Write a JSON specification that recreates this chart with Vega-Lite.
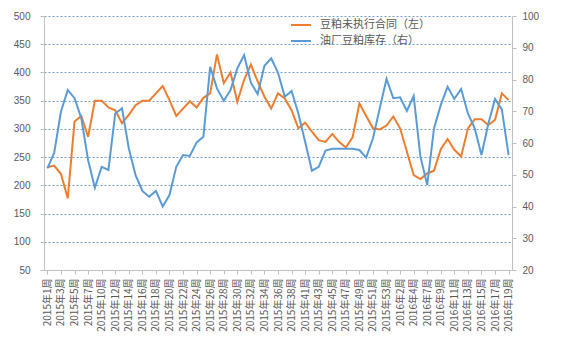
{
  "$schema": "https://vega.github.io/schema/vega-lite/v6.json",
  "autosize": {"type": "none"},
  "padding": {"left": 44, "top": 16, "right": 52, "bottom": 88},
  "width": 468,
  "height": 254,
  "background": "white",
  "config": {
    "view": {"stroke": null},
    "font": "Noto Sans CJK SC",
    "axis": {"labelColor": "#595959", "domainColor": "#bfbfbf", "tickColor": "#bfbfbf", "tickSize": 4, "labelFontSize": 10, "titleColor": "#595959"}
  },
  "data": {"values": [
    {"w": "2015年1周", "a": 232, "b": 52.0},
    {"w": "2015年2周", "a": 235, "b": 56.9},
    {"w": "2015年3周", "a": 220, "b": 69.9},
    {"w": "2015年4周", "a": 177, "b": 76.7},
    {"w": "2015年5周", "a": 313, "b": 74.1},
    {"w": "2015年6周", "a": 323, "b": 67.8},
    {"w": "2015年7周", "a": 286, "b": 54.6},
    {"w": "2015年9周", "a": 350, "b": 45.9},
    {"w": "2015年10周", "a": 350, "b": 52.5},
    {"w": "2015年11周", "a": 338, "b": 51.5},
    {"w": "2015年12周", "a": 333, "b": 69.3},
    {"w": "2015年13周", "a": 310, "b": 70.9},
    {"w": "2015年14周", "a": 325, "b": 58.3},
    {"w": "2015年15周", "a": 342, "b": 49.9},
    {"w": "2015年16周", "a": 350, "b": 44.9},
    {"w": "2015年17周", "a": 350, "b": 43.1},
    {"w": "2015年18周", "a": 363, "b": 44.9},
    {"w": "2015年19周", "a": 376, "b": 40.0},
    {"w": "2015年20周", "a": 351, "b": 43.6},
    {"w": "2015年21周", "a": 323, "b": 52.5},
    {"w": "2015年22周", "a": 336, "b": 56.2},
    {"w": "2015年23周", "a": 349, "b": 55.9},
    {"w": "2015年24周", "a": 338, "b": 60.2},
    {"w": "2015年25周", "a": 355, "b": 62.0},
    {"w": "2015年26周", "a": 363, "b": 84.0},
    {"w": "2015年27周", "a": 432, "b": 77.2},
    {"w": "2015年28周", "a": 381, "b": 73.3},
    {"w": "2015年29周", "a": 400, "b": 76.7},
    {"w": "2015年30周", "a": 348, "b": 83.5},
    {"w": "2015年31周", "a": 387, "b": 87.7},
    {"w": "2015年32周", "a": 414, "b": 79.0},
    {"w": "2015年33周", "a": 384, "b": 75.4},
    {"w": "2015年34周", "a": 357, "b": 84.3},
    {"w": "2015年35周", "a": 336, "b": 86.7},
    {"w": "2015年36周", "a": 363, "b": 82.1},
    {"w": "2015年37周", "a": 354, "b": 74.6},
    {"w": "2015年38周", "a": 333, "b": 76.4},
    {"w": "2015年40周", "a": 301, "b": 69.3},
    {"w": "2015年41周", "a": 311, "b": 60.4},
    {"w": "2015年42周", "a": 295, "b": 51.3},
    {"w": "2015年43周", "a": 280, "b": 52.5},
    {"w": "2015年44周", "a": 277, "b": 57.6},
    {"w": "2015年45周", "a": 291, "b": 58.2},
    {"w": "2015年46周", "a": 277, "b": 58.2},
    {"w": "2015年47周", "a": 267, "b": 58.2},
    {"w": "2015年48周", "a": 285, "b": 58.2},
    {"w": "2015年49周", "a": 345, "b": 57.8},
    {"w": "2015年50周", "a": 323, "b": 55.4},
    {"w": "2015年51周", "a": 301, "b": 61.5},
    {"w": "2015年52周", "a": 299, "b": 70.9},
    {"w": "2015年53周", "a": 306, "b": 80.2},
    {"w": "2016年1周", "a": 322, "b": 74.1},
    {"w": "2016年2周", "a": 301, "b": 74.4},
    {"w": "2016年3周", "a": 260, "b": 70.1},
    {"w": "2016年4周", "a": 218, "b": 74.8},
    {"w": "2016年6周", "a": 211, "b": 55.7},
    {"w": "2016年7周", "a": 221, "b": 46.8},
    {"w": "2016年8周", "a": 226, "b": 64.6},
    {"w": "2016年9周", "a": 264, "b": 72.0},
    {"w": "2016年10周", "a": 282, "b": 77.7},
    {"w": "2016年11周", "a": 263, "b": 73.9},
    {"w": "2016年12周", "a": 251, "b": 77.0},
    {"w": "2016年13周", "a": 301, "b": 69.3},
    {"w": "2016年14周", "a": 317, "b": 64.6},
    {"w": "2016年15周", "a": 317, "b": 56.2},
    {"w": "2016年16周", "a": 307, "b": 66.0},
    {"w": "2016年17周", "a": 316, "b": 73.9},
    {"w": "2016年18周", "a": 363, "b": 70.6},
    {"w": "2016年19周", "a": 351, "b": 56.2}
  ]},
  "encoding": {
    "x": {
      "field": "w", "type": "ordinal", "sort": null,
      "scale": {"type": "point", "padding": 0.5},
      "axis": {
        "title": null, "labelAngle": -90, "labelAlign": "right", "labelBaseline": "middle", "labelPadding": 4, "labelFontSize": 10,
        "values": ["2015年1周","2015年3周","2015年5周","2015年7周","2015年10周","2015年12周","2015年14周","2015年16周","2015年18周","2015年20周","2015年22周","2015年24周","2015年26周","2015年28周","2015年30周","2015年32周","2015年34周","2015年36周","2015年38周","2015年41周","2015年43周","2015年45周","2015年47周","2015年49周","2015年51周","2015年53周","2016年2周","2016年4周","2016年7周","2016年9周","2016年11周","2016年13周","2016年15周","2016年17周","2016年19周"]
      }
    }
  },
  "layer": [
    {
      "mark": {"type": "line", "strokeWidth": 2},
      "encoding": {
        "y": {
          "field": "a", "type": "quantitative",
          "scale": {"domain": [50, 500], "nice": false, "zero": false},
          "axis": {"title": null, "orient": "left", "values": [50,100,150,200,250,300,350,400,450,500], "labelFont": "Liberation Sans", "labelPadding": 10, "grid": true, "gridColor": "#4a7ebb", "gridDash": [2, 2], "gridOpacity": 0.75, "gridWidth": 1}
        },
        "color": {
          "datum": "豆粕未执行合同（左）",
          "scale": {"domain": ["豆粕未执行合同（左）", "油厂豆粕库存（右）"], "range": ["#ed7d31", "#5b9bd5"]},
          "legend": {"title": null, "orient": "none", "legendX": 246, "legendY": -2, "symbolType": "stroke", "symbolSize": 400, "symbolStrokeWidth": 2, "labelFontSize": 11, "labelColor": "#595959", "labelFont": "Noto Sans CJK SC", "rowPadding": 0, "labelOffset": 8}
        }
      }
    },
    {
      "mark": {"type": "line", "strokeWidth": 2},
      "encoding": {
        "y": {
          "field": "b", "type": "quantitative",
          "scale": {"domain": [20, 100], "nice": false, "zero": false},
          "axis": {"title": null, "orient": "right", "values": [20,30,40,50,60,70,80,90,100], "labelFont": "Liberation Sans", "labelPadding": 6, "grid": false}
        },
        "color": {"datum": "油厂豆粕库存（右）"}
      }
    }
  ],
  "resolve": {"scale": {"y": "independent"}}
}
